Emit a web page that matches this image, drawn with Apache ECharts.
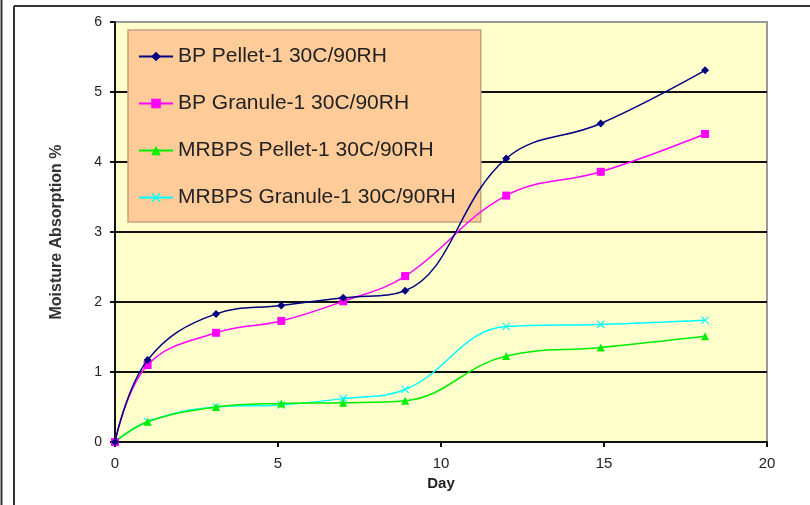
<!DOCTYPE html>
<html>
<head>
<meta charset="utf-8">
<script src="https://cdn.jsdelivr.net/npm/echarts@6/dist/echarts.min.js"></script>
<style>
  html, body { margin: 0; padding: 0; background: #fff; }
  #chart { width: 810px; height: 505px; }
</style>
</head>
<body>
<div id="chart"></div>
<script>
const days = [0, 1, 3.1, 5.1, 7, 8.9, 12, 14.9, 18.1]
const seriesNames = [
  'BP Pellet-1 30C/90RH',
  'BP Granule-1 30C/90RH',
  'MRBPS Pellet-1 30C/90RH',
  'MRBPS Granule-1 30C/90RH'
]
const bpPellet = [0, 1.17, 1.83, 1.95, 2.06, 2.16, 4.05, 4.55, 5.31]
const bpGranule = [0, 1.10, 1.56, 1.73, 2.01, 2.37, 3.52, 3.86, 4.40]
const mrbpsPellet = [0, 0.29, 0.50, 0.55, 0.56, 0.59, 1.23, 1.35, 1.51]
const mrbpsGranule = [0, 0.29, 0.50, 0.53, 0.62, 0.75, 1.65, 1.68, 1.74]

const xMark = 'path://M0,1L1,0L5,4L9,0L10,1L6,5L10,9L9,10L5,6L1,10L0,9L4,5Z'

const styles = [
  { color: '#000080', symbol: 'diamond', size: 8 },
  { color: '#ff00ff', symbol: 'rect', size: 8 },
  { color: '#00ee00', symbol: 'triangle', size: 8 },
  { color: '#00ffff', symbol: xMark, size: 8 }
]
const values = [bpPellet, bpGranule, mrbpsPellet, mrbpsGranule]

const font = 'Liberation Sans, Arial, sans-serif'

const chart = echarts.init(document.getElementById('chart'))

chart.setOption({
  animation: false,
  backgroundColor: '#fff',
  grid: {
    left: 115, right: 43, top: 22, bottom: 63,
    show: true,
    backgroundColor: '#ffffcc',
    borderColor: '#999',
    borderWidth: 2
  },
  legend: {
    orient: 'vertical',
    left: 128,
    top: 30,
    itemWidth: 34,
    itemHeight: 12,
    itemGap: 26,
    padding: [16, 25, 14, 10],
    backgroundColor: '#ffcc99',
    borderColor: '#c8a080',
    borderWidth: 1.5,
    textStyle: { fontFamily: font, fontSize: 21, color: '#222' },
    data: seriesNames
  },
  xAxis: {
    type: 'value',
    min: 0, max: 20, interval: 5,
    name: 'Day',
    nameLocation: 'middle',
    nameGap: 30,
    nameTextStyle: { fontFamily: font, fontSize: 15, fontWeight: 'bold', color: '#222' },
    axisLine: { lineStyle: { color: '#111', width: 2 } },
    axisTick: { show: true, inside: false, length: 5, lineStyle: { color: '#111', width: 2 } },
    axisLabel: { fontFamily: font, fontSize: 15, color: '#222', margin: 14 },
    splitLine: { show: false }
  },
  yAxis: {
    type: 'value',
    min: 0, max: 6, interval: 1,
    name: 'Moisture Absorption %',
    nameLocation: 'middle',
    nameGap: 50,
    nameTextStyle: { fontFamily: font, fontSize: 16, fontWeight: 'bold', color: '#333' },
    axisLine: { show: true, lineStyle: { color: '#111', width: 2 } },
    axisTick: { show: true, inside: false, length: 5, lineStyle: { color: '#111', width: 2 } },
    axisLabel: { fontFamily: font, fontSize: 14, color: '#222', margin: 13 },
    splitLine: {
      show: true,
      lineStyle: { color: ['#111', '#111', '#111', '#111', '#111', '#111', '#999'], width: 2 }
    }
  },
  graphic: [
    { type: 'line', shape: { x1: 1.5, y1: 0, x2: 1.5, y2: 505 }, style: { stroke: '#333', lineWidth: 2 } },
    { type: 'line', shape: { x1: 14, y1: 6, x2: 14, y2: 505 }, style: { stroke: '#333', lineWidth: 2 } },
    { type: 'line', shape: { x1: 14, y1: 6, x2: 810, y2: 6 }, style: { stroke: '#333', lineWidth: 2 } }
  ],
  series: seriesNames.map((name, i) => ({
    name,
    type: 'line',
    smooth: 0.4,
    symbol: styles[i].symbol,
    symbolSize: styles[i].size,
    lineStyle: { color: styles[i].color, width: 1.5 },
    itemStyle: { color: styles[i].color },
    data: days.map((d, j) => [d, values[i][j]]),
    z: 10 - i
  }))
})
</script>
</body>
</html>
